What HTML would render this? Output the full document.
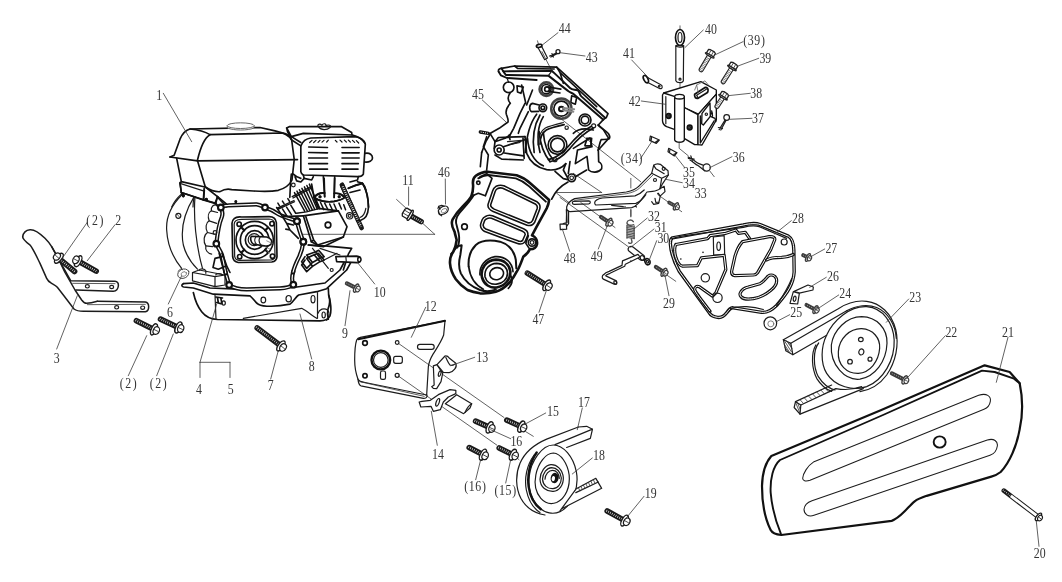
<!DOCTYPE html>
<html><head><meta charset="utf-8"><title>Parts diagram</title>
<style>
html,body{margin:0;padding:0;background:#fff;}
body{width:1062px;height:582px;overflow:hidden;font-family:"Liberation Serif",serif;}
svg{display:block;filter:grayscale(1);}
svg *{vector-effect:non-scaling-stroke;}
.k{fill:none;stroke:#111;stroke-width:1.65;stroke-linecap:round;stroke-linejoin:round;}
.kf{fill:#fff;stroke:#111;stroke-width:1.65;stroke-linecap:round;stroke-linejoin:round;}
.m{fill:none;stroke:#1c1c1c;stroke-width:1.2;stroke-linecap:round;stroke-linejoin:round;}
.mf{fill:#fff;stroke:#1c1c1c;stroke-width:1.2;stroke-linecap:round;stroke-linejoin:round;}
.t{fill:none;stroke:#333;stroke-width:0.8;stroke-linecap:round;stroke-linejoin:round;}
.tf{fill:#fff;stroke:#333;stroke-width:0.8;stroke-linecap:round;stroke-linejoin:round;}
.l{fill:none;stroke:#3a3a3a;stroke-width:0.8;stroke-linecap:round;}
.g{fill:none;stroke:#999;stroke-width:0.8;stroke-linecap:round;stroke-linejoin:round;}
.b{fill:#111;stroke:none;}
.sp path{stroke:#555;}
#bracket42 .k,#bracket42 .kf{stroke-width:1.35;}
text{font-family:"Liberation Serif",serif;font-size:15px;fill:#333;text-anchor:middle;stroke:none;}
</style></head><body>
<svg width="1062" height="582" viewBox="0 0 1062 582">
<rect x="0" y="0" width="1062" height="582" fill="#fff" stroke="none"/>
<!-- 06_axis.svg -->
<g id="axis">
<line class="l" x1="554" y1="113.3" x2="640.7" y2="181.7"/>
<line class="l" x1="556.7" y1="192.5" x2="601.7" y2="192.5"/>
<line class="l" x1="573.3" y1="173.3" x2="601.7" y2="192.5"/>
<line class="l" x1="556.7" y1="193.3" x2="570" y2="203.3"/>
<line class="l" x1="580.8" y1="202.5" x2="615" y2="227.5"/>
<line class="l" x1="560" y1="197.5" x2="628.3" y2="246.7"/>
<line class="l" x1="666.7" y1="275" x2="675.8" y2="281.3"/>
<line class="l" x1="658.3" y1="195" x2="681.7" y2="211.7"/>
<line class="l" x1="398.3" y1="343.3" x2="504" y2="417.5"/>
<line class="l" x1="525.8" y1="431.7" x2="533.3" y2="436.3"/>
<line class="l" x1="398.3" y1="376" x2="496.7" y2="445"/>
<line class="l" x1="516.7" y1="457.5" x2="519" y2="459.7"/>
<line class="l" x1="545.8" y1="59.2" x2="553" y2="73"/>
<line class="l" x1="703.3" y1="30" x2="685" y2="47.5"/>
<line class="l" x1="301.7" y1="234.3" x2="434.7" y2="234.3"/>
<line class="l" x1="396.6" y1="199.5" x2="434.7" y2="234.3"/>
</g>

<!-- 10_cover21.svg -->
<g id="cover21" transform="translate(708,346) scale(0.333333)">
<path class="k" style="stroke-width:2.2" d="M190,330 L520,192 L830,58 L905,78 L935,112 C943,150 946,200 935,250 C926,300 905,350 878,378 C868,386 860,389 850,392 L656,449.5 C640,455 628,460 620,466 C610,474 600,486 590,496 C578,508 565,520 551,524.5 L220,567 C200,565 192,560 188,552 C172,520 162,470 162,420 C163,385 172,350 190,330 Z"/>
<path class="k" style="stroke-width:1.9" d="M218.5,563 C205,530 192,490 188,440 C186,400 195,360 216,342 L525,207 L822,74 L860,78 L918,98 L935,112"/>
<path class="m" style="stroke-width:1.05" d="M318,347 L812,148 C835,140 850,150 847,166 C845,178 838,186 828,190 L306,403 C292,408 284,404 284,397 C285,383 298,360 318,347 Z"/>
<path class="m" style="stroke-width:1.05" d="M312,464 L838,282 C858,276 870,286 868,300 C866,314 858,324 846,328 L318,508 C300,514 288,504 288,490 C289,478 298,469 312,464 Z"/>
<ellipse class="k" style="stroke-width:1.9" cx="695" cy="288" rx="18" ry="17"/>
</g>

<!-- 11_pulley23.svg -->
<g id="pulley23" transform="translate(760,290) scale(0.1666667)">
<!-- back edge of pulley (left thickness) -->
<path class="m" d="M352,318 C318,360 318,460 350,520 C375,560 410,590 450,600"/>
<path class="m" d="M335,330 C305,380 310,470 340,530 C365,570 395,596 430,608"/>
<!-- belt wrapping (outer) -->
<path class="m" d="M140,298 L470,112 C520,80 580,60 640,68 C720,78 790,140 815,240 C835,330 815,430 760,510 C720,565 660,600 600,610"/>
<!-- pulley face outer -->
<path class="mf" d="M400,270 C440,180 540,95 640,100 C740,108 800,200 805,300 C810,420 740,540 640,580 C560,608 450,580 400,500 C362,440 365,340 400,270 Z"/>
<path class="m" d="M520,125 C580,90 650,85 700,105 C770,135 812,210 818,290"/>
<!-- rings -->
<path class="m" d="M428,330 C440,240 520,160 610,160 C700,162 765,230 762,320 C758,430 690,520 600,535 C510,545 420,450 428,330 Z"/>
<path class="m" d="M470,370 C475,290 540,230 610,232 C680,236 722,290 718,350 C712,430 660,495 590,500 C520,502 465,450 470,370 Z"/>
<ellipse class="m" cx="605" cy="297" rx="14" ry="13"/>
<ellipse class="m" cx="608" cy="372" rx="15" ry="18" transform="rotate(20 608 372)"/>
<ellipse class="m" cx="540" cy="430" rx="14" ry="14"/>
<ellipse class="m" cx="660" cy="415" rx="12" ry="12"/>
<!-- upper belt run -->
<path class="mf" d="M140,298 L185,320 L197,388 L155,365 Z"/>
<path class="m" d="M185,320 L520,125"/>
<path class="m" d="M197,388 L400,272"/>
<path class="t" d="M150,310 L188,370 M160,305 L192,352 M145,325 L180,378 M150,345 L170,372 M170,315 L190,340"/>
</g>
<g id="belt-lower" transform="translate(760,360) scale(0.1666667)">
<path class="mf" d="M213,250 L245,270 L240,325 L205,285 Z"/>
<path class="m" d="M213,250 L430,150"/>
<path class="m" d="M245,270 L455,172 C500,180 560,178 610,160"/>
<path class="m" d="M240,325 L620,172"/>
<path class="t" d="M240,238 L262,262 M265,226 L287,250 M290,215 L312,238 M315,203 L337,227 M340,192 L362,215 M365,180 L387,204 M390,169 L412,192 M412,158 L436,181"/>
<path class="t" d="M215,258 L238,315 M225,255 L242,300"/>
</g>

<!-- 20_handle3.svg -->
<g id="handle3" transform="translate(0,194) scale(0.333333)">
<path class="m" style="stroke-width:1.5" d="M68,128 C70,115 80,108 90,107 C102,106 122,120 135,133 C145,143 150,150 155,158 L212,260 L345,262 C352,263 356,268 355,276 C354,285 350,291 340,292 L228,288"/>
<path class="m" style="stroke-width:1.5" d="M68,128 C68,136 76,142 90,153 C100,165 110,188 120,208 L140,253 C144,262 150,265 155,268 C162,272 168,275 172,280 L190,303 L222,345 C230,351 240,352 250,352 L436,353 C442,352 446,346 446,338 C446,330 442,325 436,324 L292,322"/>
<path class="m" style="stroke-width:1.5" d="M155,158 L172,188 L195,235 L225,288 L245,318 C250,325 254,328 260,328 C272,328 282,325 292,322"/>
<path class="t" d="M218,268 L345,269"/>
<path class="t" d="M262,332 L436,331"/>
<ellipse class="m" cx="262" cy="277" rx="6" ry="5"/><ellipse class="m" cx="335" cy="279" rx="6" ry="5"/>
<ellipse class="m" cx="350" cy="340" rx="6" ry="5"/><ellipse class="m" cx="428" cy="341" rx="6" ry="5"/>
</g>

<!-- 21_base8.svg -->
<g id="base8" transform="translate(160,245) scale(0.1666667)">
<!-- top flange -->
<path class="k" d="M140,232 C128,236 128,250 142,252 L200,258 L320,295 L540,305 C560,320 570,345 590,355 C620,372 700,372 780,355 C800,340 815,310 832,300 L940,280 L1000,262 L1120,150 L1150,95"/>
<path class="k" d="M140,232 L200,228 L300,258 L470,265 L800,255 L990,228 L1080,150 L1120,75"/>
<!-- body -->
<path class="k" d="M200,285 C210,330 225,370 250,400 C275,432 310,445 345,447 L960,455 C990,455 1010,445 1020,425 C1030,395 1025,340 1012,300 L1010,262"/>
<path class="m" d="M500,440 L850,380 C880,395 915,425 940,440"/>
<path class="m" d="M945,285 L945,440"/>
<path class="m" d="M330,300 L336,445"/>
<ellipse class="m" cx="620" cy="330" rx="14" ry="17"/>
<ellipse class="m" cx="772" cy="322" rx="16" ry="19"/>
<ellipse class="m" cx="918" cy="325" rx="12" ry="22"/>
<ellipse class="m" cx="982" cy="420" rx="10" ry="18"/>
<path class="m" d="M948,410 C955,385 985,375 1005,390 C1020,405 1015,440 1000,452"/>
<!-- right end -->
<path class="k" d="M1012,300 C1022,330 1018,360 1008,385 C1002,410 1005,430 1010,445"/>
<!-- small bolt 5 -->
<path class="k" d="M335,312 L375,318 M345,318 L350,345 M365,320 L372,352 M340,345 L365,352"/>
<ellipse class="m" cx="382" cy="348" rx="10" ry="13"/>
<!-- mounting blocks -->
<path class="m" d="M195,165 L330,190 L330,250 L195,215 Z M195,165 L235,150 L390,180 L330,190 M390,180 L390,240 L330,250"/>
<path class="m" d="M235,152 C235,140 270,140 275,155 L275,170 M335,180 C335,168 370,168 372,182"/>
<!-- gasket bottom -->
<path class="k" style="stroke-width:4.2" d="M392,160 L415,240 C440,258 470,266 520,266 L720,260 C760,258 785,250 800,238 C790,215 790,190 800,158"/>
<path style="fill:none;stroke:#fff;stroke-width:1.2" d="M392,160 L415,240 C440,258 470,266 520,266 L720,260 C760,258 785,250 800,238 C790,215 790,190 800,158"/>
<circle class="kf" style="stroke-width:2.1" cx="415" cy="240" r="17"/>
<circle class="kf" style="stroke-width:2.1" cx="800" cy="238" r="17"/>
<!-- washer 6 -->
<ellipse class="g" cx="140" cy="172" rx="35" ry="27" transform="rotate(-25 140 172)" style="stroke:#444;stroke-width:1"/>
<ellipse class="g" cx="143" cy="174" rx="17" ry="13" transform="rotate(-25 143 174)" style="stroke:#666"/>
<path class="t" d="M108,158 L122,145 L135,148"/>
</g>

<!-- 30_engine_top.svg -->
<g id="tank" transform="translate(160,110) scale(0.1666667)">
<!-- tank upper -->
<path class="k" d="M60,282 L85,272 L120,175 C135,140 155,120 180,114 L600,105 L690,125 C740,135 775,150 790,180 L805,295"/>
<path class="k" d="M180,114 C220,118 270,130 300,148 L740,138 C760,140 780,160 790,180"/>
<path class="k" d="M300,148 C270,165 245,215 225,300"/>
<path class="k" d="M60,282 L225,305 L825,298"/>
<!-- fuel cap -->
<path d="M403,94 L405,108 C440,124 530,124 563,108 L565,94 Z" fill="#fff" stroke="#666" stroke-width="1" stroke-linejoin="round"/>
<ellipse cx="484" cy="94" rx="81" ry="17" fill="#fff" stroke="#666" stroke-width="1"/>
<!-- tank lower -->
<path class="k" d="M100,290 L128,430 L270,462"/>
<path class="k" d="M225,305 L272,462 C300,480 330,492 360,490 C380,478 400,470 430,478 L560,486 C620,490 680,488 710,482 C750,470 780,445 792,420 L805,300"/>
<!-- tank bracket -->
<path class="k" d="M128,430 L120,440 L128,495 L260,540 L265,470"/>
<path class="k" d="M128,495 L140,520 M260,540 L330,560 L345,520 L272,462"/>
<path class="m" d="M120,440 L260,485"/>
<circle class="b" cx="140" cy="515" r="9"/><circle class="b" cx="278" cy="535" r="9"/><circle class="b" cx="455" cy="550" r="8"/>
<path class="k" d="M345,520 C360,540 380,560 400,580 M330,560 L350,582"/>
<!-- fan housing arcs (top part) -->
<path class="m" d="M128,505 C100,530 80,560 70,582"/>
<path class="m" d="M205,520 C200,545 198,565 198,582"/>
</g>
<g id="airbox" transform="translate(270,110) scale(0.1666667)">
<!-- top plate -->
<path class="k" d="M100,108 L115,100 L430,100 L490,135 L492,150"/>
<path class="k" d="M100,108 L128,160 L185,195 M100,108 L105,130 L130,180 L185,215"/>
<path class="k" d="M128,160 L200,140 L495,150 C530,160 555,175 570,200"/>
<!-- wing nut -->
<path class="m" d="M290,100 C280,85 300,80 312,92 C318,78 340,80 335,95 C350,85 372,92 360,105 C350,115 335,118 325,118 C312,118 298,112 290,100 Z"/>
<!-- front box -->
<path class="k" d="M185,215 C195,190 215,172 245,168 L510,160 C545,165 565,180 572,205 L560,385 C555,395 545,400 530,400 L200,390 C190,385 186,378 185,370 Z"/>
<path class="k" d="M570,260 C600,255 615,270 615,288 C615,305 595,315 568,312"/>
<!-- vents dashes top -->
<path class="k" style="stroke-width:1.2" d="M238,195 L252,182 M262,195 L276,182 M288,194 L300,182 M312,193 L324,182 M340,192 L350,181 M392,182 L402,192 M420,181 L432,192 M446,181 L458,192 M470,181 L482,192 M495,182 L508,194 M518,184 L532,198"/>
<!-- louvers -->
<path class="k" style="stroke-width:1.6" d="M232,222 L345,225 M232,255 L345,257 M232,288 L345,288 M232,322 L345,322 M238,355 L345,355"/>
<path class="k" style="stroke-width:1.6" d="M432,225 L535,225 M432,257 L535,257 M432,288 L535,288 M432,322 L530,322 M432,355 L528,355"/>
<!-- below box -->
<path class="k" d="M200,390 L205,410 L250,420 L260,400 M530,400 L525,420 L480,432"/>
<path class="k" d="M140,385 C150,395 165,405 185,410 M150,400 L160,425 L185,432 L205,410"/>
<!-- intake pipe -->
<path class="k" d="M320,400 L328,520 M388,400 L385,525"/>
<path class="k" d="M270,520 C290,500 320,495 328,498 M385,500 C410,498 430,508 445,525"/>
<path class="k" d="M265,525 C290,545 340,555 385,548 C415,542 440,532 448,525"/>
<circle class="b" cx="300" cy="520" r="9"/><circle class="b" cx="415" cy="520" r="9"/>
<!-- muffler guard strip -->
<path class="k" style="stroke-width:4.6;stroke:#1a1a1a" d="M432,450 L472,540 L492,582"/>
<path style="fill:none;stroke:#fff;stroke-width:2.2;stroke-dasharray:0.8 1.3" d="M435,458 L472,540 L490,580"/>
<!-- muffler body top -->
<path class="k" d="M470,470 C500,455 530,445 555,440 C575,470 588,520 592,582"/>
<path class="k" d="M525,430 L555,440"/>
<circle class="m" cx="140" cy="450" r="11"/>
<path class="k" d="M128,385 L124,425 L119,524"/>
</g>

<!-- 31_engine_mid.svg -->
<g id="crankcase" transform="translate(160,175) scale(0.1666667)">
<!-- fan housing arcs -->
<path class="m" d="M130,120 C70,180 35,250 40,330 C45,420 80,500 130,560"/>
<path class="m" d="M205,130 C150,220 120,320 140,420 C155,480 190,530 225,565"/>
<path class="m" d="M210,130 C200,250 215,420 255,560"/>
<circle class="m" cx="110" cy="245" r="15"/><path class="t" d="M102,235 L120,256"/>
<!-- tank bracket continuing -->
<path class="k" d="M120,45 L128,105 L262,148 L266,90 M128,105 L140,125 M262,148 L335,170 L345,130"/>
<circle class="b" cx="140" cy="122" r="9"/><circle class="b" cx="278" cy="145" r="9"/><circle class="b" cx="455" cy="160" r="8"/>
<path class="k" d="M345,130 C370,150 395,170 410,185 M335,170 L352,195"/>
<!-- crankcase cover: double outline -->
<path class="k" style="stroke-width:4.2" d="M365,195 C380,185 395,182 410,182 L580,176 C600,178 615,188 630,195 C660,205 690,220 710,235 C750,255 790,265 822,277 C830,320 845,360 860,400 C855,440 845,470 835,490 C820,520 805,550 798,585"/>
<path style="fill:none;stroke:#fff;stroke-width:1.2" d="M365,195 C380,185 395,182 410,182 L580,176 C600,178 615,188 630,195 C660,205 690,220 710,235 C750,255 790,265 822,277 C830,320 845,360 860,400 C855,440 845,470 835,490 C820,520 805,550 798,585"/>
<path class="k" style="stroke-width:4.2" d="M365,195 C375,215 378,235 370,255 C355,290 345,350 338,412 C350,440 365,460 372,480 C380,520 388,560 395,590"/>
<path style="fill:none;stroke:#fff;stroke-width:1.2" d="M365,195 C375,215 378,235 370,255 C355,290 345,350 338,412 C350,440 365,460 372,480 C380,520 388,560 395,590"/>
<circle class="kf" style="stroke-width:2.1" cx="365" cy="195" r="17"/>
<circle class="kf" style="stroke-width:2.1" cx="630" cy="195" r="17"/>
<circle class="kf" style="stroke-width:2.1" cx="822" cy="277" r="17"/>
<circle class="kf" style="stroke-width:2.1" cx="860" cy="400" r="17"/>
<circle class="kf" style="stroke-width:2.1" cx="338" cy="412" r="17"/>
<!-- left wavy block -->
<path class="m" d="M345,180 C320,175 305,190 308,215 C290,225 285,250 295,275 C275,285 270,320 285,345 C262,360 258,400 275,425 C270,450 285,470 310,475"/>
<path class="m" d="M308,215 L345,225 M295,275 L340,290 M285,345 L325,355 M275,425 L315,430"/>
<circle class="m" cx="330" cy="345" r="11"/>
<!-- spark / lever lower-left -->
<path class="k" d="M330,500 L380,488 L400,545 L350,565 L318,555 Z M380,488 L372,470 M400,545 L420,585 M355,470 L385,585"/>
<!-- PTO flange rounded square -->
<path class="k" d="M445,262 C455,252 470,250 490,252 L655,250 C680,250 695,262 698,285 L702,490 C700,510 690,520 670,522 L470,525 C448,522 438,510 436,490 L432,290 C432,278 436,270 445,262 Z"/>
<path class="m" d="M455,275 C462,268 472,266 488,266 L655,264 C675,265 684,274 686,290 L690,488 C688,502 680,508 666,510 L474,512 C458,510 450,502 448,488 L445,295 C445,286 449,280 455,275 Z"/>
<circle class="k" cx="475" cy="295" r="13"/><circle class="k" cx="672" cy="292" r="13"/><circle class="k" cx="478" cy="490" r="13"/><circle class="k" cx="675" cy="487" r="13"/>
<circle class="k" cx="568" cy="390" r="112"/><circle class="k" cx="568" cy="390" r="86"/>
<path class="k" style="stroke-width:2.2" d="M492,318 L505,332 M645,318 L632,332 M492,462 L505,448 M645,462 L632,448"/>
<circle class="k" cx="568" cy="390" r="56"/>
<circle class="m" cx="565" cy="388" r="36"/>
<!-- shaft -->
<path class="kf" d="M548,368 L640,372 C665,378 675,395 668,412 C660,425 640,428 625,425 L560,415 C545,405 540,380 548,368 Z"/>
<path class="m" d="M575,372 C565,385 568,405 580,418 M600,374 C592,388 595,408 606,420"/>
<path class="g" d="M640,395 L672,410 M630,430 L660,445 M640,450 L655,470" style="stroke:#777"/>
<!-- lower right block under cover -->
<path class="k" d="M880,500 L925,478 L960,520 L915,548 Z M925,478 L950,470 L985,510 L960,520 M870,510 L850,540 L880,580 L915,548"/>
<path class="m" d="M985,510 L1062,470"/>
</g>
<g id="cylinder" transform="translate(270,175) scale(0.1666667)">
<path class="k" d="M40,195 L75,250 L200,245 M250,55 L265,140 L290,200 L410,215"/>
<!-- intake flange (from above tile) -->
<path class="k" d="M325,20 L328,130 M388,20 L385,135"/>
<path class="k" d="M265,135 C290,155 340,165 385,158 C415,152 440,142 448,135 C440,118 420,108 388,110 M328,108 C300,105 275,118 265,135"/>
<circle class="b" cx="300" cy="130" r="9"/><circle class="b" cx="415" cy="130" r="9"/>
<!-- muffler guard strip -->
<path class="k" style="stroke-width:4.6;stroke:#1a1a1a" d="M432,60 L472,150 L550,318"/>
<path style="fill:none;stroke:#fff;stroke-width:2.2;stroke-dasharray:0.8 1.3" d="M436,68 L472,150 L546,310"/>
<!-- muffler body -->
<path class="k" d="M470,80 C500,65 530,55 555,50 C580,90 592,150 590,200 C588,240 575,262 545,272 L520,275"/>
<path class="k" d="M555,50 C565,60 572,75 575,90 M480,105 L540,90"/>
<path class="m" d="M575,200 C570,230 560,248 540,255"/>
<!-- valve cover box -->
<path class="k" d="M200,245 L410,215 L462,310 L440,372 L285,420 L248,400 L200,245 Z"/>
<path class="k" d="M215,250 L262,390 L285,420 M262,390 L248,400"/>
<circle class="k" cx="348" cy="300" r="17"/>
<circle class="m" cx="478" cy="245" r="19"/><circle class="m" cx="478" cy="245" r="9"/>
<path class="k" d="M440,372 L320,430 L230,420"/>
<!-- cover bosses on this tile -->
<circle class="kf" style="stroke-width:2.1" cx="162" cy="277" r="17"/>
<circle class="kf" style="stroke-width:2.1" cx="200" cy="400" r="17"/>
<path class="k" d="M75,250 L100,290 L140,300 M100,290 L120,330 L170,380 M120,330 L95,325"/>
<!-- lower body lines -->
<path class="k" d="M230,420 L330,425 L490,440 L470,475 L440,570"/>
<path class="k" d="M220,480 L275,460 L300,500 L255,525 Z M275,460 L292,452 L325,490 L300,500 M210,490 L190,520 L220,560 L255,525"/>
<path class="m" d="M255,440 L350,560 M300,440 L420,480"/>
<circle class="m" cx="370" cy="570" r="9"/>
<!-- spacer 10 -->
<path class="kf" d="M395,490 L520,487 C535,488 545,498 545,508 C545,518 535,527 522,526 L400,520 Z"/>
<ellipse class="b" cx="535" cy="507" rx="13" ry="19"/><ellipse cx="536" cy="507" rx="5" ry="9" fill="#fff"/>
<path class="m" d="M455,489 L458,523"/>
</g>

<!-- 32_fins.svg -->
<g id="fins" transform="translate(270,170) scale(0.082863)">
<path class="k" style="stroke-width:1.5" d="M295,272 L420,500 M325,255 L450,494 M355,238 L480,488 M385,221 L510,482 M415,204 L540,476 M445,187 L570,470 M475,170 L600,464 "/>
<path class="k" style="stroke-width:1.3" d="M268,322 L500,196 M278,338 L508,212"/>
<path class="k" style="stroke-width:1.3" d="M88,460 L290,368 M95,476 L296,383"/>
<path class="k" style="stroke-width:1.5" d="M150,470 L208,560 M200,448 L260,542 M250,425 L310,522 M95,400 L115,432 M150,375 L170,407 M215,345 L235,377"/>
<path class="k" style="stroke-width:1.5" d="M560,380 L600,468 M610,392 L650,478 M660,400 L700,480 M720,410 L752,480 M772,410 L802,480 M832,400 L862,470 M890,420 L912,480"/>
<path class="k" style="stroke-width:1.3" d="M320,522 L440,505 L600,462"/>
</g>

<!-- 40_housing45.svg -->
<g id="housing45" transform="translate(470,55) scale(0.1666667)">
<!-- top rail frame -->
<path class="k" style="stroke-width:1.7" d="M172,100 C168,88 175,82 188,80 L268,66 L520,73 L828,352 L818,375"/>
<path class="k" style="stroke-width:1.9" d="M172,100 L185,122 L222,138 L400,150 M188,80 L200,98 L492,95 L600,198 C615,212 630,205 645,212 C660,222 655,235 668,248 L812,378"/>
<path class="k" style="stroke-width:2" d="M200,98 L215,120 L470,124 L588,215 C600,228 618,225 628,240 L800,388"/>
<path class="k" d="M268,66 L285,80 L505,84 M520,73 L540,105 L560,170 M540,105 L760,310"/>
<path class="m" d="M222,138 L232,165 M492,95 L470,124"/>
<!-- bosses below rail -->
<circle class="k" cx="232" cy="194" r="32"/>
<path class="k" d="M282,185 L320,192 L305,230 L285,222 Z"/>
<!-- gear 1 -->
<circle class="k" style="stroke-width:2.1;stroke:#444" cx="458" cy="205" r="42"/><circle class="t" cx="458" cy="205" r="36"/>
<circle class="k" cx="458" cy="205" r="28"/><circle class="k" cx="462" cy="205" r="14"/>
<path class="k" d="M470,192 L545,205 M470,218 L540,228"/>
<path class="k" d="M610,245 L640,255 L632,295 L605,285 Z"/>
<!-- gear 2 -->
<circle class="k" style="stroke-width:2.1;stroke:#444" cx="548" cy="322" r="62"/><circle class="t" cx="548" cy="322" r="55"/>
<circle class="k" cx="548" cy="322" r="45"/>
<circle class="k" style="stroke-width:2" cx="548" cy="324" r="14"/>
<path class="k" d="M560,318 L625,325 M560,332 L620,340" style="stroke:#888;stroke-width:2"/>
<!-- boss -->
<circle class="k" cx="437" cy="317" r="23"/><circle class="k" cx="437" cy="317" r="11"/>
<path class="k" d="M415,300 L375,290 C355,295 352,330 370,340 L412,338"/>
<!-- right circles -->
<circle class="k" cx="690" cy="390" r="36"/><circle class="k" cx="690" cy="390" r="23"/>
<circle class="m" cx="742" cy="425" r="12"/><circle class="m" cx="580" cy="436" r="10"/>
<!-- big lower circle -->
<circle class="k" cx="525" cy="540" r="56"/><circle class="k" cx="525" cy="540" r="41"/>
<!-- left profile -->
<path class="k" d="M240,230 C225,250 225,270 242,290 C225,310 212,335 218,355 C225,375 232,390 228,402 L175,440 L125,468 L95,520 L70,585"/>
<path class="k" d="M375,210 L340,300 M330,290 L300,350 L262,440 L240,480 M350,340 L300,440 L290,470"/>
<path class="k" d="M310,180 L335,290"/>
<!-- curved inner walls -->
<path class="k" d="M400,355 C365,400 340,470 332,585"/>
<path class="k" d="M440,370 C410,420 395,480 420,585 M420,360 C385,420 372,500 385,585"/>
<path class="k" d="M420,535 C420,500 435,465 458,450 C480,438 520,428 565,418"/><path class="m" d="M408,540 C408,495 425,455 452,438 C478,425 520,415 560,405"/>
<!-- stud -->
<path class="k" style="stroke-width:3.4" d="M62,462 L110,470"/>
<path style="fill:none;stroke:#fff;stroke-width:1;stroke-dasharray:1 1.2" d="M64,462 L108,470"/>
<!-- lower-left boss (part) -->
<path class="k" d="M120,470 L150,520 L210,500 L240,480 M150,520 L145,560"/>
<!-- right lower -->
<path class="k" d="M768,421 C790,440 815,455 830,471 C838,482 840,495 836,502 C820,508 800,506 787,508 C780,520 776,545 768,572"/>
<path class="k" d="M812,378 L800,388 L770,420"/>
<path class="k" d="M620,470 C650,440 700,440 740,450 M700,500 L730,500 L725,545 L690,545"/>
</g>
<g id="housing45b" transform="translate(470,120) scale(0.1666667)">
<circle class="kf" cx="175" cy="180" r="30"/><circle class="k" cx="175" cy="180" r="12"/>
<path class="k" d="M100,100 L80,160 L110,210 L100,300 M70,195 L62,280"/>
<path class="k" d="M200,160 L330,118 M205,198 L322,215 M150,130 L170,105 L330,100 M235,90 L240,118 M150,210 L190,235 L320,240"/>
<path class="m" d="M225,130 L310,122 M230,150 L300,135"/>
<path class="k" d="M330,100 L340,200 C360,250 400,285 460,298 C510,305 550,290 575,262"/>
<path class="k" d="M345,110 C350,180 380,250 440,275 M318,108 L325,230"/>
<!-- curved double line to top right -->
<path class="k" d="M480,250 C520,245 560,215 600,170 C640,120 680,80 740,48"/>
<path class="k" d="M470,238 C510,232 548,205 588,160 C628,112 668,70 728,38"/>
<path class="k" d="M415,70 C420,140 440,200 480,250 M440,75 C445,140 462,195 500,240"/>
<circle class="m" cx="510" cy="238" r="12"/>
<!-- right leg -->
<path class="k" d="M620,170 L720,108 L732,160 L645,180 L632,262 L702,218 L712,300 C730,318 770,318 790,292 C795,272 785,255 772,250 L770,180 L832,110 L800,58 L770,30"/>
<path class="k" d="M700,120 L690,150 M600,250 L590,320 M575,262 L560,300 L585,345"/>
<!-- bottom boss -->
<circle class="kf" cx="610" cy="347" r="23"/><circle class="m" cx="610" cy="347" r="11"/>
<path class="k" d="M510,308 L560,352 L588,358 M632,340 L700,300"/>
<!-- curve to guard/arm -->
<path class="k" d="M588,372 C545,395 510,430 490,475"/>
</g>

<!-- 41_guard.svg -->
<g id="guard" transform="translate(430,160) scale(0.1666667)">
<defs>
<path id="gd-out" d="M275,95 C295,80 320,72 345,70 L520,92 C560,105 585,125 605,142 L715,240 C712,262 706,278 700,290 L640,400 L612,452 C630,460 645,480 642,505 C638,525 620,535 600,535 C590,555 575,570 560,580 C545,620 535,650 520,670 C505,700 490,720 478,735 C450,765 420,785 395,790 C360,800 330,802 300,800 C270,795 245,788 225,780 C195,760 170,735 155,715 C135,685 122,650 120,620 C118,590 125,570 140,550 C150,530 158,500 160,480 C155,460 150,445 148,432 C130,400 128,375 135,358 C150,330 170,305 195,280 C220,255 240,235 248,218 C258,190 260,165 258,145 C255,120 262,105 275,95 Z"/>
<path id="gd-w1" d="M400,165 C415,158 428,158 440,162 L638,258 C652,268 655,280 650,295 L622,368 C612,385 600,388 585,384 L382,302 C362,292 352,280 357,265 L383,188 C387,176 392,170 400,165 Z"/>
<path id="gd-w2" d="M335,347 C345,340 358,338 372,342 L558,420 C575,428 582,440 578,452 L562,488 C552,498 540,498 528,494 L332,422 C315,412 308,400 312,385 L320,362 C324,354 328,350 335,347 Z"/>
</defs>
<use href="#gd-out" class="k" style="stroke-width:2.6"/>
<path class="k" style="stroke-width:1.9" d="M290,110 C310,98 330,92 350,90 L515,110 C550,122 575,140 595,158 L695,250"/>
<path class="k" d="M300,100 L340,82 L372,110 L332,215 L290,200 L262,212"/>
<circle class="k" cx="290" cy="137" r="10"/>
<use href="#gd-w1" class="k" style="stroke-width:4.2"/><use href="#gd-w1" style="fill:none;stroke:#fff;stroke-width:1.1"/>
<use href="#gd-w2" class="k" style="stroke-width:4.2"/><use href="#gd-w2" style="fill:none;stroke:#fff;stroke-width:1.1"/>
<circle class="k" cx="207" cy="400" r="17"/>
<circle class="k" cx="612" cy="495" r="22"/><circle class="m" cx="612" cy="495" r="11"/>
<path class="k" d="M590,455 L575,500 L595,530"/>
<!-- left inner second outline -->
<path class="k" style="stroke-width:1.9" d="M262,212 C240,250 200,290 175,320 C155,345 150,370 162,400 L172,440 C178,470 175,500 165,525"/>
<!-- left bulge -->
<path class="k" style="stroke-width:2" d="M150,520 L190,512 L182,570 C172,610 172,650 185,680 C205,720 250,760 300,780 C330,790 360,790 395,778"/>
<path class="k" d="M160,525 L125,565"/>
<!-- dome arcs -->
<path class="k" style="stroke-width:2" d="M232,640 C228,590 245,540 275,510 C310,480 360,478 420,490 C470,505 505,545 515,600 L518,650"/>
<path class="k" d="M300,690 C295,640 330,590 390,580 C450,575 495,615 498,670"/>
<path class="k" style="stroke-width:2.6" d="M312,705 C300,650 340,600 395,598 C445,598 478,630 482,668 C485,715 450,755 400,765 C360,770 325,748 312,705 Z"/>
<path class="k" d="M330,700 C325,655 355,622 400,620 C440,620 465,648 465,680 C465,715 435,742 400,745 C365,748 338,730 330,700 Z"/>
<ellipse class="k" cx="400" cy="682" rx="42" ry="36" transform="rotate(-15 400 682)"/>
<path class="k" d="M482,690 C500,720 490,750 470,770 M232,640 C240,700 270,750 320,775"/>
</g>

<!-- 42_arm34.svg -->
<g id="arm34" transform="translate(545,125) scale(0.1666667)">
<!-- lever arm -->
<path class="m" d="M130,492 C135,470 150,455 178,442 L488,402 C520,395 545,385 562,368 L640,290 L652,242 C665,232 680,232 692,236 L738,274 L740,300 L702,358 L690,382 C680,392 665,396 645,398 L612,402 C590,430 575,455 560,470 C548,482 535,492 520,496 L152,520 C135,520 128,510 130,492 Z"/>
<path class="t" d="M178,452 L490,412 C525,405 550,395 568,378 L648,300"/>
<path class="m" d="M640,290 L700,320 L740,300 M700,320 L690,382 M652,242 L665,262 L715,292"/>
<circle class="m" cx="712" cy="263" r="9"/><circle class="m" cx="660" cy="330" r="9"/>
<path class="m" d="M172,458 L262,455 C275,456 275,472 262,473 L175,476 C162,476 160,460 172,458 Z"/>
<path class="m" d="M310,450 C320,442 330,440 345,438 L540,425 C565,418 580,405 595,390 M305,480 C295,475 295,458 310,450 M305,480 L545,470 C570,462 590,440 605,418"/>
<path class="m" d="M400,482 L470,490 M545,488 L548,492"/>
<circle class="b" cx="480" cy="490" r="4"/><circle class="b" cx="545" cy="488" r="4"/>
<!-- under bracket -->
<path class="m" d="M690,382 L715,368 L720,400 L692,425 L682,470 L652,476 L640,460 M660,440 L665,465 L685,462 M680,410 L690,425"/>
<circle class="b" cx="678" cy="412" r="5"/>
<!-- left strap 48 -->
<path class="m" d="M130,505 L128,580 M142,518 L140,582"/>
<!-- vertical tick lines -->
<path class="l" d="M515,320 L515,378 M515,505 L515,545"/>
<!-- clips (34), 35 -->
<path class="m" d="M632,66 L686,90 L668,110 L628,92 Z M640,72 L636,95 M680,92 L664,102"/>
<path class="m" d="M742,140 L792,166 L776,186 L738,160 Z M750,146 L746,166 M786,168 L772,180"/>
</g>
<g id="parts29-33" transform="translate(560,190) scale(0.1666667)">
<!-- bracket 48 -->
<path class="m" d="M38,118 L42,195 L20,202 M50,125 L52,200 L42,215"/>
<path class="mf" d="M0,205 L38,203 L40,235 L2,238 Z"/>
<!-- spring 32 --><g class="sp">
<path class="m" style="stroke-width:1.3" d="M425,120 L425,160"/>
<path class="m" style="stroke-width:1.4" d="M440,190 C430,175 405,178 402,195 C400,210 420,215 442,208"/>
<path class="m" style="stroke-width:1.2" d="M402,215 L445,222 M402,225 L445,232 M402,235 L445,242 M402,245 L445,252 M402,255 L445,262 M402,265 L445,272 M402,275 L445,282 M402,285 L445,290"/>
<path class="m" d="M402,212 L402,290 M445,215 L445,292"/>
<path class="m" style="stroke-width:1.4" d="M428,292 L432,312 C430,322 418,322 412,316"/>
</g><!-- link 31 tube -->
<path class="mf" d="M410,350 C412,338 428,335 438,342 L505,395 C512,405 505,420 492,422 C485,422 478,418 472,412 L415,368 C408,362 408,355 410,350 Z"/>
<ellipse class="m" cx="494" cy="408" rx="12" ry="15" transform="rotate(-30 494 408)"/>
<!-- arm plate -->
<path class="mf" d="M375,425 L468,386 L480,402 L392,445 L388,458 L300,500 C285,505 275,510 268,518 L262,508 C270,498 282,492 295,488 L372,452 Z"/>
<circle class="b" cx="425" cy="425" r="4"/>
<!-- pin at end -->
<path class="mf" d="M262,508 C252,512 250,528 260,535 L325,565 C338,568 345,555 338,545 L275,515"/>
<ellipse class="m" cx="332" cy="556" rx="8" ry="11" transform="rotate(-30 332 556)"/>
<!-- washer 30 -->
<ellipse class="k" style="stroke-width:1.6" cx="525" cy="430" rx="15" ry="19" transform="rotate(-25 525 430)"/>
<ellipse class="m" cx="525" cy="430" rx="6" ry="9" transform="rotate(-25 525 430)"/>
</g>

<!-- 43_bracket42.svg -->
<g id="pin40-41" transform="translate(625,15) scale(0.1666667)">
<!-- eye pin 40 -->
<path class="l" d="M330,65 L330,85"/>
<ellipse class="k" cx="330" cy="135" rx="27" ry="48"/>
<ellipse class="m" cx="330" cy="135" rx="12" ry="30"/>
<path class="mf" d="M305,185 C315,195 345,195 352,185 L350,395 C345,410 312,410 305,395 Z"/>
<path class="m" d="M305,185 C312,178 320,182 328,182 M352,185 C345,178 338,182 332,182"/>
<circle class="m" cx="330" cy="385" r="6"/>
<path class="l" d="M330,410 L330,470"/>
<!-- pin 41 -->
<path class="mf" d="M135,375 L215,418 C228,425 225,445 210,442 L128,400 Z"/>
<ellipse class="kf" cx="125" cy="385" rx="12" ry="24" transform="rotate(-28 125 385)"/>
<circle class="m" cx="205" cy="428" r="5"/>
</g>
<g id="bracket42" transform="translate(625,80) scale(0.1666667)">
<!-- top gusset -->
<path class="kf" d="M232,78 L455,10 L548,60 L548,85 L440,205 L355,165 L300,112 L240,95 Z"/>
<!-- front plate left -->
<path class="kf" d="M225,90 L232,78 L300,100 L300,298 L250,280 C235,272 226,260 225,245 Z"/>
<path class="m" d="M245,100 L245,262"/>
<!-- front plate right -->
<path class="kf" d="M355,165 L438,208 L438,388 L418,388 L355,350 Z"/>
<path class="kf" d="M438,208 L548,85 L548,240 L462,390 L438,388 Z"/>
<path class="k" d="M452,215 L452,378 L535,245"/>
<!-- side window -->
<path class="kf" d="M462,200 L510,138 L512,218 L470,270 L460,262 Z"/>
<circle class="m" cx="488" cy="205" r="7"/>
<path class="k" d="M512,218 L540,230 L545,250 M520,185 L525,215"/>
<circle class="b" cx="520" cy="200" r="7"/>
<!-- holes -->
<circle class="k" style="stroke-width:2" cx="262" cy="216" r="13"/><circle class="m" cx="262" cy="216" r="5"/>
<circle class="k" style="stroke-width:2" cx="388" cy="285" r="13"/><circle class="m" cx="388" cy="285" r="5"/>
<!-- nut slot on top -->
<path class="k" style="stroke-width:1.8" d="M418,85 L478,46 C492,42 500,52 498,64 L495,75 L438,110 C425,112 415,105 418,85 Z"/>
<path class="m" d="M430,92 L488,56 M438,110 L432,95"/>
<path class="t" d="M418,60 L430,30 L480,5 L500,30 M430,30 L440,80" style="stroke:#666"/>
<!-- cylinder -->
<path class="kf" d="M298,100 L298,360 C305,378 350,378 356,360 L356,100 Z"/>
<ellipse class="kf" cx="327" cy="100" rx="29" ry="14"/>
<!-- rod below -->
<path class="l" d="M325,375 L325,410 L380,455"/>
<!-- cotter 37 -->
<circle class="m" cx="610" cy="225" r="17"/>
<path class="m" d="M600,240 L565,298 M606,243 L575,300 M560,285 L585,292"/>
<!-- cotter 36 -->
<circle class="m" cx="490" cy="525" r="22"/>
<path class="m" d="M472,512 L440,500 C425,495 415,480 395,470 L378,462 M478,545 L440,515 C420,505 410,492 390,480"/>
<path class="m" d="M395,455 L405,490 M380,470 L415,475"/>
<path class="l" d="M508,545 L535,580"/>
</g>

<!-- 44_plate28.svg -->
<g id="plate28" transform="translate(660,222) scale(0.1666667)">
<defs>
<path id="p28-out" d="M75,95 L500,18 C540,8 580,8 600,15 L770,85 C795,100 802,130 803,170 L805,300 C800,370 770,420 700,500 C670,530 640,545 610,542 L440,515 C425,512 415,525 400,545 C385,565 365,575 345,572 C320,568 305,560 298,548 L115,295 C90,250 65,180 62,130 C62,110 65,100 75,95 Z"/>
<path id="p28-w1" d="M495,118 L655,88 C680,85 692,95 688,108 L665,165 L585,305 C578,315 570,318 560,318 L450,322 C435,320 428,310 430,295 L450,205 C460,170 475,140 495,118 Z"/>
<path id="p28-w2" d="M482,425 C490,405 510,395 530,390 L600,370 C620,360 635,340 648,325 C665,312 690,318 698,340 C705,365 690,390 665,410 C630,440 590,455 560,460 C530,465 500,462 488,450 C480,442 478,434 482,425 Z"/>
<path id="p28-pk" d="M95,135 L285,100 L300,82 L395,68 L455,48 L470,68 L512,62 L538,100 M95,135 C85,150 85,190 100,225 C110,250 120,262 135,265 L225,262 L248,215 L385,200 L395,285 L335,425 L315,445 L235,388 C220,382 208,390 208,405 C210,420 250,470 300,535"/>
<path id="p28-rr" d="M640,228 C665,212 700,212 730,212 C760,210 780,205 800,195"/>
</defs>
<use href="#p28-out" class="k" style="stroke-width:3.4"/><use href="#p28-out" style="fill:none;stroke:#fff;stroke-width:1.0"/>
<path class="m" d="M70,100 L130,85 L500,32 C540,22 575,22 595,28 L760,98"/>
<use href="#p28-pk" class="k" style="stroke-width:3.2"/><use href="#p28-pk" style="fill:none;stroke:#fff;stroke-width:1.0"/>
<use href="#p28-w1" class="k" style="stroke-width:3.2"/><use href="#p28-w1" style="fill:none;stroke:#fff;stroke-width:1.0"/>
<use href="#p28-w2" class="k" style="stroke-width:3.2"/><use href="#p28-w2" style="fill:none;stroke:#fff;stroke-width:1.0"/>
<use href="#p28-rr" class="k" style="stroke-width:3.2"/><use href="#p28-rr" style="fill:none;stroke:#fff;stroke-width:1.0"/>
<path class="m" d="M320,90 L385,82 L388,195 L322,198 Z"/>
<ellipse class="m" cx="352" cy="145" rx="11" ry="25"/>
<circle class="b" cx="125" cy="222" r="5"/><circle class="b" cx="258" cy="182" r="5"/>
<circle class="m" cx="745" cy="120" r="18"/>
<circle class="m" cx="272" cy="335" r="25"/>
<circle class="m" cx="345" cy="455" r="28"/>
<path class="m" d="M420,520 C480,500 560,505 620,525 M700,500 C740,440 770,390 790,340"/>
<!-- bracket 26 -->
<path class="mf" d="M805,416 L888,378 L920,390 L918,408 L836,427 Z"/>
<path class="mf" d="M800,418 L836,428 L826,492 L780,488 Z"/>
<ellipse class="m" cx="808" cy="460" rx="8" ry="16" transform="rotate(10 808 460)"/>
</g>
<g id="washer25" transform="translate(760,290) scale(0.1666667)">
<ellipse class="m" cx="62" cy="200" rx="38" ry="39"/><ellipse class="g" cx="65" cy="203" rx="18" ry="18" style="stroke:#666"/>
</g>

<!-- 45_plate12.svg -->
<g id="plate12" transform="translate(350,315) scale(0.1666667)">
<path class="m" d="M40,150 C45,140 52,136 62,134 L570,35 L562,120 C545,165 520,200 500,232 C482,262 472,290 470,312 L460,480 L90,405 C65,400 52,395 48,385 C35,350 28,310 28,270 C28,230 30,180 40,150 Z"/>
<path class="k" style="stroke-width:2" d="M50,145 L570,35"/>
<path class="m" d="M48,385 C50,410 55,420 65,425 L440,500 C455,500 465,495 462,480"/>
<path class="t" d="M60,400 L445,488"/>
<circle class="k" cx="90" cy="168" r="14"/><circle class="m" cx="283" cy="165" r="11"/>
<circle class="k" style="stroke-width:2.4" cx="185" cy="270" r="56"/><circle class="m" cx="185" cy="270" r="44"/>
<rect class="m" x="262" y="248" width="52" height="42" rx="12"/>
<rect class="m" x="405" y="176" width="100" height="30" rx="14"/>
<circle class="k" cx="90" cy="365" r="13"/>
<rect class="m" x="183" y="336" width="30" height="50" rx="10"/>
<circle class="m" cx="283" cy="362" r="12"/>
<!-- bracket 13 -->
<path class="mf" d="M500,305 L522,298 L556,350 L546,400 L520,442 L500,440 L490,430 L505,420 Z"/>
<ellipse class="m" cx="538" cy="352" rx="7" ry="17" transform="rotate(15 538 352)"/>
<path class="mf" d="M522,298 L570,246 C580,244 590,250 595,258 L635,290 C640,305 635,318 628,325 C618,338 605,345 595,346 L560,345 Z"/>
<path class="m" d="M575,255 C585,275 590,290 600,300 C610,305 620,300 628,295"/>
<!-- bracket 14 -->
<path class="mf" d="M415,522 L432,518 L482,512 L530,478 L600,448 L635,452 L635,472 L590,492 L560,522 L542,568 L500,578 L486,548 L425,552 Z"/>
<ellipse class="m" cx="526" cy="524" rx="9" ry="24" transform="rotate(20 526 524)"/>
<path class="mf" d="M572,532 L640,478 L730,532 L720,558 L682,592 Z"/>
<path class="m" d="M730,532 C715,540 700,560 690,585"/>
</g>

<!-- 46_pulley18.svg -->
<g id="pulley18" transform="translate(505,415) scale(0.1666667)">
<!-- belt 17 wrap -->
<path class="m" d="M440,72 L250,145 C180,175 120,220 90,290 C60,360 65,440 95,500 C125,555 180,590 240,600"/>
<path class="m" d="M440,72 L490,68 L525,85 L512,140 L370,195 M525,85 L300,178"/>
<!-- pulley face -->
<path class="mf" d="M290,180 C350,180 410,250 428,340 C445,430 410,540 330,580 C290,598 240,590 205,555 C160,510 135,440 145,370 C155,280 220,180 290,180 Z"/>
<path class="k" style="stroke-width:2.4" d="M190,225 C150,280 132,360 142,430 C150,490 180,540 215,565"/>
<path class="m" d="M175,240 C130,300 115,380 128,450 C140,510 170,560 210,585"/>
<path class="m" d="M290,228 C335,230 375,290 385,360 C392,430 365,500 310,525 C275,538 240,528 215,500 C185,465 175,410 185,360 C198,290 245,228 290,228 Z"/>
<!-- hub -->
<path class="m" d="M210,385 C212,340 240,302 275,298 C310,296 345,325 350,375 C352,420 325,455 290,458 C250,460 212,435 210,385 Z"/>
<path class="m" d="M225,385 C228,348 250,318 280,316 C310,316 335,340 338,378 C338,412 318,440 288,442 C255,444 228,422 225,385 Z"/>
<path class="m" d="M240,385 C242,355 262,332 285,332 C308,332 325,352 326,380"/>
<ellipse class="b" cx="298" cy="378" rx="24" ry="31" transform="rotate(12 298 378)"/>
<ellipse cx="290" cy="382" rx="10" ry="16" fill="#fff" transform="rotate(12 290 382)"/>
<!-- lower belt -->
<path class="mf" d="M428,442 L545,380 L580,440 L340,562 L330,575 Z"/>
<path class="m" d="M425,466 L560,402"/>
<path class="t" d="M440,436 L450,455 M455,428 L465,448 M470,420 L480,440 M485,412 L495,433 M500,404 L510,425 M515,396 L525,418 M530,388 L540,410"/>
</g>

<!-- 50_bolts.svg -->
<g id="bolts">
<line x1="60.7" y1="259.8" x2="74.6" y2="271.5" stroke="#1a1a1a" stroke-width="5.6" stroke-linecap="round"/>
<line x1="61.3" y1="260.4" x2="75.8" y2="272.5" stroke="#fff" stroke-width="2.2" stroke-dasharray="0.6 1.5"/>
<ellipse cx="58.9" cy="258.3" rx="2.7" ry="6.0" transform="rotate(40.1 58.9 258.3)" fill="#fff" stroke="#1a1a1a" stroke-width="1.4"/>
<ellipse cx="56.9" cy="256.6" rx="3.0" ry="4.0" transform="rotate(40.1 56.9 256.6)" fill="#fff" stroke="#1a1a1a" stroke-width="1.2"/>
<line x1="55.2" y1="255.1" x2="59.0" y2="258.4" stroke="#1a1a1a" stroke-width="0.8"/>
<line x1="80.3" y1="262.3" x2="96.2" y2="271.1" stroke="#1a1a1a" stroke-width="5.6" stroke-linecap="round"/>
<line x1="81.0" y1="262.7" x2="97.6" y2="271.9" stroke="#fff" stroke-width="2.2" stroke-dasharray="0.6 1.5"/>
<ellipse cx="78.2" cy="261.2" rx="2.7" ry="6.0" transform="rotate(28.9 78.2 261.2)" fill="#fff" stroke="#1a1a1a" stroke-width="1.4"/>
<ellipse cx="75.9" cy="259.9" rx="3.0" ry="4.0" transform="rotate(28.9 75.9 259.9)" fill="#fff" stroke="#1a1a1a" stroke-width="1.2"/>
<line x1="73.9" y1="258.8" x2="78.3" y2="261.2" stroke="#1a1a1a" stroke-width="0.8"/>
<line x1="151.9" y1="328.4" x2="136.4" y2="320.7" stroke="#1a1a1a" stroke-width="5.6" stroke-linecap="round"/>
<line x1="151.2" y1="328.0" x2="135.0" y2="320.0" stroke="#fff" stroke-width="2.2" stroke-dasharray="0.6 1.5"/>
<ellipse cx="154.0" cy="329.4" rx="2.7" ry="6.0" transform="rotate(-153.7 154.0 329.4)" fill="#fff" stroke="#1a1a1a" stroke-width="1.4"/>
<ellipse cx="156.3" cy="330.6" rx="3.0" ry="4.0" transform="rotate(-153.7 156.3 330.6)" fill="#fff" stroke="#1a1a1a" stroke-width="1.2"/>
<line x1="158.4" y1="331.6" x2="153.9" y2="329.4" stroke="#1a1a1a" stroke-width="0.8"/>
<line x1="176.2" y1="326.5" x2="160.5" y2="319.1" stroke="#1a1a1a" stroke-width="5.6" stroke-linecap="round"/>
<line x1="175.5" y1="326.2" x2="159.1" y2="318.4" stroke="#fff" stroke-width="2.2" stroke-dasharray="0.6 1.5"/>
<ellipse cx="178.4" cy="327.5" rx="2.7" ry="6.0" transform="rotate(-154.7 178.4 327.5)" fill="#fff" stroke="#1a1a1a" stroke-width="1.4"/>
<ellipse cx="180.7" cy="328.6" rx="3.0" ry="4.0" transform="rotate(-154.7 180.7 328.6)" fill="#fff" stroke="#1a1a1a" stroke-width="1.2"/>
<line x1="182.8" y1="329.6" x2="178.3" y2="327.5" stroke="#1a1a1a" stroke-width="0.8"/>
<line x1="279.0" y1="344.5" x2="257.2" y2="328.0" stroke="#1a1a1a" stroke-width="5.6" stroke-linecap="round"/>
<line x1="278.4" y1="344.0" x2="256.0" y2="327.0" stroke="#fff" stroke-width="2.2" stroke-dasharray="0.6 1.5"/>
<ellipse cx="280.9" cy="345.9" rx="2.7" ry="6.0" transform="rotate(-142.9 280.9 345.9)" fill="#fff" stroke="#1a1a1a" stroke-width="1.4"/>
<ellipse cx="283.0" cy="347.5" rx="3.0" ry="4.0" transform="rotate(-142.9 283.0 347.5)" fill="#fff" stroke="#1a1a1a" stroke-width="1.2"/>
<line x1="284.8" y1="348.9" x2="280.8" y2="345.8" stroke="#1a1a1a" stroke-width="0.8"/>
<line x1="354.7" y1="287.4" x2="346.9" y2="283.4" stroke="#3c3c3c" stroke-width="4.2" stroke-linecap="round"/>
<line x1="354.0" y1="287.0" x2="346.1" y2="283.0" stroke="#fff" stroke-width="0.8" stroke-dasharray="0.6 1.5"/>
<ellipse cx="356.2" cy="288.1" rx="1.9" ry="4.5" transform="rotate(-153.3 356.2 288.1)" fill="#fff" stroke="#3c3c3c" stroke-width="1.4"/>
<ellipse cx="357.9" cy="289.0" rx="2.2" ry="3.0" transform="rotate(-153.3 357.9 289.0)" fill="#fff" stroke="#3c3c3c" stroke-width="1.2"/>
<line x1="359.3" y1="289.7" x2="356.1" y2="288.1" stroke="#3c3c3c" stroke-width="0.8"/>
<line x1="411.8" y1="216.3" x2="421.2" y2="221.7" stroke="#1a1a1a" stroke-width="5.4" stroke-linecap="round"/>
<line x1="412.5" y1="216.7" x2="422.5" y2="222.5" stroke="#fff" stroke-width="2.0" stroke-dasharray="0.6 1.5"/>
<ellipse cx="410.2" cy="215.3" rx="1.5" ry="5.8" transform="rotate(30.2 410.2 215.3)" fill="#fff" stroke="#1a1a1a" stroke-width="1.3"/>
<polygon points="404.9,209.3 406.9,208.1 411.7,210.9 407.0,218.8 402.3,216.0 402.3,213.7" fill="#fff" stroke="#1a1a1a" stroke-width="1.3" stroke-linejoin="round"/>
<line x1="404.8" y1="210.3" x2="410.2" y2="213.5" stroke="#1a1a1a" stroke-width="0.8"/>
<line x1="403.2" y1="213.1" x2="408.5" y2="216.2" stroke="#1a1a1a" stroke-width="0.8"/>
<line x1="544.6" y1="284.0" x2="527.4" y2="273.2" stroke="#1a1a1a" stroke-width="5.6" stroke-linecap="round"/>
<line x1="544.0" y1="283.6" x2="526.0" y2="272.3" stroke="#fff" stroke-width="2.2" stroke-dasharray="0.6 1.5"/>
<ellipse cx="546.7" cy="285.3" rx="2.7" ry="6.0" transform="rotate(-147.9 546.7 285.3)" fill="#fff" stroke="#1a1a1a" stroke-width="1.4"/>
<ellipse cx="548.8" cy="286.6" rx="3.0" ry="4.0" transform="rotate(-147.9 548.8 286.6)" fill="#fff" stroke="#1a1a1a" stroke-width="1.2"/>
<line x1="550.8" y1="287.9" x2="546.6" y2="285.2" stroke="#1a1a1a" stroke-width="0.8"/>
<line x1="607.5" y1="221.2" x2="601.0" y2="217.0" stroke="#3c3c3c" stroke-width="4.2" stroke-linecap="round"/>
<line x1="606.8" y1="220.8" x2="600.2" y2="216.5" stroke="#fff" stroke-width="0.8" stroke-dasharray="0.6 1.5"/>
<ellipse cx="608.9" cy="222.2" rx="1.9" ry="4.5" transform="rotate(-146.7 608.9 222.2)" fill="#fff" stroke="#3c3c3c" stroke-width="1.4"/>
<ellipse cx="610.5" cy="223.2" rx="2.2" ry="3.0" transform="rotate(-146.7 610.5 223.2)" fill="#fff" stroke="#3c3c3c" stroke-width="1.2"/>
<line x1="611.8" y1="224.1" x2="608.8" y2="222.1" stroke="#3c3c3c" stroke-width="0.8"/>
<line x1="662.5" y1="271.3" x2="655.9" y2="267.0" stroke="#3c3c3c" stroke-width="4.2" stroke-linecap="round"/>
<line x1="661.8" y1="270.9" x2="655.2" y2="266.5" stroke="#fff" stroke-width="0.8" stroke-dasharray="0.6 1.5"/>
<ellipse cx="663.9" cy="272.3" rx="1.9" ry="4.5" transform="rotate(-146.4 663.9 272.3)" fill="#fff" stroke="#3c3c3c" stroke-width="1.4"/>
<ellipse cx="665.5" cy="273.3" rx="2.2" ry="3.0" transform="rotate(-146.4 665.5 273.3)" fill="#fff" stroke="#3c3c3c" stroke-width="1.2"/>
<line x1="666.8" y1="274.2" x2="663.9" y2="272.2" stroke="#3c3c3c" stroke-width="0.8"/>
<line x1="674.6" y1="205.7" x2="669.2" y2="202.6" stroke="#3c3c3c" stroke-width="3.8" stroke-linecap="round"/>
<line x1="673.9" y1="205.3" x2="668.5" y2="202.3" stroke="#fff" stroke-width="0.8" stroke-dasharray="0.6 1.5"/>
<ellipse cx="675.9" cy="206.4" rx="1.7" ry="4.0" transform="rotate(-150.9 675.9 206.4)" fill="#fff" stroke="#3c3c3c" stroke-width="1.4"/>
<ellipse cx="677.4" cy="207.2" rx="1.9" ry="2.6" transform="rotate(-150.9 677.4 207.2)" fill="#fff" stroke="#3c3c3c" stroke-width="1.2"/>
<line x1="678.6" y1="207.9" x2="675.9" y2="206.4" stroke="#3c3c3c" stroke-width="0.8"/>
<line x1="806.5" y1="256.8" x2="803.3" y2="255.2" stroke="#3c3c3c" stroke-width="4.0" stroke-linecap="round"/>
<line x1="805.8" y1="256.4" x2="802.6" y2="254.8" stroke="#fff" stroke-width="0.8" stroke-dasharray="0.6 1.5"/>
<ellipse cx="808.0" cy="257.5" rx="1.8" ry="4.2" transform="rotate(-153.7 808.0 257.5)" fill="#fff" stroke="#3c3c3c" stroke-width="1.4"/>
<ellipse cx="809.5" cy="258.2" rx="2.0" ry="2.8" transform="rotate(-153.7 809.5 258.2)" fill="#fff" stroke="#3c3c3c" stroke-width="1.2"/>
<line x1="810.8" y1="258.9" x2="807.9" y2="257.4" stroke="#3c3c3c" stroke-width="0.8"/>
<line x1="814.1" y1="308.9" x2="806.5" y2="304.9" stroke="#3c3c3c" stroke-width="4.0" stroke-linecap="round"/>
<line x1="813.4" y1="308.5" x2="805.8" y2="304.6" stroke="#fff" stroke-width="0.8" stroke-dasharray="0.6 1.5"/>
<ellipse cx="815.5" cy="309.6" rx="1.8" ry="4.2" transform="rotate(-152.4 815.5 309.6)" fill="#fff" stroke="#3c3c3c" stroke-width="1.4"/>
<ellipse cx="817.0" cy="310.4" rx="2.0" ry="2.8" transform="rotate(-152.4 817.0 310.4)" fill="#fff" stroke="#3c3c3c" stroke-width="1.2"/>
<line x1="818.3" y1="311.1" x2="815.4" y2="309.6" stroke="#3c3c3c" stroke-width="0.8"/>
<line x1="903.2" y1="379.1" x2="891.9" y2="373.4" stroke="#3c3c3c" stroke-width="4.2" stroke-linecap="round"/>
<line x1="902.5" y1="378.7" x2="891.1" y2="373.0" stroke="#fff" stroke-width="0.8" stroke-dasharray="0.6 1.5"/>
<ellipse cx="904.7" cy="379.9" rx="1.9" ry="4.5" transform="rotate(-153.4 904.7 379.9)" fill="#fff" stroke="#3c3c3c" stroke-width="1.4"/>
<ellipse cx="906.4" cy="380.7" rx="2.2" ry="3.0" transform="rotate(-153.4 906.4 380.7)" fill="#fff" stroke="#3c3c3c" stroke-width="1.2"/>
<line x1="907.8" y1="381.4" x2="904.6" y2="379.8" stroke="#3c3c3c" stroke-width="0.8"/>
<line x1="519.2" y1="425.7" x2="506.8" y2="420.1" stroke="#1a1a1a" stroke-width="5.6" stroke-linecap="round"/>
<line x1="518.4" y1="425.4" x2="505.3" y2="419.5" stroke="#fff" stroke-width="2.2" stroke-dasharray="0.6 1.5"/>
<ellipse cx="521.3" cy="426.7" rx="2.7" ry="6.0" transform="rotate(-155.8 521.3 426.7)" fill="#fff" stroke="#1a1a1a" stroke-width="1.4"/>
<ellipse cx="523.7" cy="427.8" rx="3.0" ry="4.0" transform="rotate(-155.8 523.7 427.8)" fill="#fff" stroke="#1a1a1a" stroke-width="1.2"/>
<line x1="525.8" y1="428.7" x2="521.2" y2="426.6" stroke="#1a1a1a" stroke-width="0.8"/>
<line x1="487.4" y1="426.4" x2="475.6" y2="421.1" stroke="#1a1a1a" stroke-width="5.6" stroke-linecap="round"/>
<line x1="486.6" y1="426.1" x2="474.1" y2="420.5" stroke="#fff" stroke-width="2.2" stroke-dasharray="0.6 1.5"/>
<ellipse cx="489.5" cy="427.4" rx="2.7" ry="6.0" transform="rotate(-155.9 489.5 427.4)" fill="#fff" stroke="#1a1a1a" stroke-width="1.4"/>
<ellipse cx="491.9" cy="428.5" rx="3.0" ry="4.0" transform="rotate(-155.9 491.9 428.5)" fill="#fff" stroke="#1a1a1a" stroke-width="1.2"/>
<line x1="494.0" y1="429.4" x2="489.4" y2="427.4" stroke="#1a1a1a" stroke-width="0.8"/>
<line x1="480.8" y1="453.6" x2="469.2" y2="447.6" stroke="#1a1a1a" stroke-width="5.6" stroke-linecap="round"/>
<line x1="480.1" y1="453.2" x2="467.8" y2="446.8" stroke="#fff" stroke-width="2.2" stroke-dasharray="0.6 1.5"/>
<ellipse cx="483.0" cy="454.7" rx="2.7" ry="6.0" transform="rotate(-152.8 483.0 454.7)" fill="#fff" stroke="#1a1a1a" stroke-width="1.4"/>
<ellipse cx="485.2" cy="455.8" rx="3.0" ry="4.0" transform="rotate(-152.8 485.2 455.8)" fill="#fff" stroke="#1a1a1a" stroke-width="1.2"/>
<line x1="487.3" y1="456.9" x2="482.8" y2="454.6" stroke="#1a1a1a" stroke-width="0.8"/>
<line x1="510.8" y1="453.7" x2="499.2" y2="447.9" stroke="#1a1a1a" stroke-width="5.6" stroke-linecap="round"/>
<line x1="510.1" y1="453.3" x2="497.8" y2="447.2" stroke="#fff" stroke-width="2.2" stroke-dasharray="0.6 1.5"/>
<ellipse cx="512.9" cy="454.7" rx="2.7" ry="6.0" transform="rotate(-153.7 512.9 454.7)" fill="#fff" stroke="#1a1a1a" stroke-width="1.4"/>
<ellipse cx="515.2" cy="455.9" rx="3.0" ry="4.0" transform="rotate(-153.7 515.2 455.9)" fill="#fff" stroke="#1a1a1a" stroke-width="1.2"/>
<line x1="517.3" y1="456.9" x2="512.8" y2="454.7" stroke="#1a1a1a" stroke-width="0.8"/>
<line x1="622.4" y1="519.4" x2="607.2" y2="511.0" stroke="#1a1a1a" stroke-width="5.6" stroke-linecap="round"/>
<line x1="621.7" y1="519.0" x2="605.8" y2="510.3" stroke="#fff" stroke-width="2.2" stroke-dasharray="0.6 1.5"/>
<ellipse cx="624.5" cy="520.6" rx="2.7" ry="6.0" transform="rotate(-151.3 624.5 520.6)" fill="#fff" stroke="#1a1a1a" stroke-width="1.4"/>
<ellipse cx="626.8" cy="521.8" rx="3.0" ry="4.0" transform="rotate(-151.3 626.8 521.8)" fill="#fff" stroke="#1a1a1a" stroke-width="1.2"/>
<line x1="628.8" y1="522.9" x2="624.4" y2="520.5" stroke="#1a1a1a" stroke-width="0.8"/>
<line x1="709.1" y1="56.4" x2="701.2" y2="69.7" stroke="#222" stroke-width="5.2" stroke-linecap="round"/>
<line x1="709.1" y1="56.4" x2="701.2" y2="69.7" stroke="#fff" stroke-width="3.0" stroke-linecap="round"/>
<line x1="708.1" y1="58.1" x2="700.5" y2="70.9" stroke="#555" stroke-width="3.0" stroke-dasharray="0.6 1.1"/>
<ellipse cx="709.7" cy="55.3" rx="1.0" ry="5.0" transform="rotate(120.6 709.7 55.3)" fill="#fff" stroke="#222" stroke-width="1.3"/>
<polygon points="714.3,51.9 715.4,53.5 713.5,56.8 706.6,52.7 708.6,49.4 710.5,49.7" fill="#fff" stroke="#222" stroke-width="1.3" stroke-linejoin="round"/>
<line x1="713.4" y1="51.8" x2="711.3" y2="55.4" stroke="#222" stroke-width="0.8"/>
<line x1="711.0" y1="50.4" x2="708.9" y2="54.0" stroke="#222" stroke-width="0.8"/>
<line x1="731.2" y1="69.1" x2="723.3" y2="81.7" stroke="#222" stroke-width="5.2" stroke-linecap="round"/>
<line x1="731.2" y1="69.1" x2="723.3" y2="81.7" stroke="#fff" stroke-width="3.0" stroke-linecap="round"/>
<line x1="730.2" y1="70.8" x2="722.5" y2="82.9" stroke="#555" stroke-width="3.0" stroke-dasharray="0.6 1.1"/>
<ellipse cx="731.9" cy="68.0" rx="1.0" ry="5.0" transform="rotate(122.2 731.9 68.0)" fill="#fff" stroke="#222" stroke-width="1.3"/>
<polygon points="736.6,64.8 737.7,66.4 735.7,69.6 728.9,65.3 730.9,62.1 732.8,62.4" fill="#fff" stroke="#222" stroke-width="1.3" stroke-linejoin="round"/>
<line x1="735.7" y1="64.6" x2="733.5" y2="68.2" stroke="#222" stroke-width="0.8"/>
<line x1="733.3" y1="63.1" x2="731.1" y2="66.7" stroke="#222" stroke-width="0.8"/>
<line x1="722.3" y1="98.3" x2="717.0" y2="106.4" stroke="#222" stroke-width="5.2" stroke-linecap="round"/>
<line x1="722.3" y1="98.3" x2="717.0" y2="106.4" stroke="#fff" stroke-width="3.0" stroke-linecap="round"/>
<line x1="721.2" y1="99.9" x2="716.3" y2="107.6" stroke="#555" stroke-width="3.0" stroke-dasharray="0.6 1.1"/>
<ellipse cx="723.0" cy="97.2" rx="1.0" ry="5.0" transform="rotate(122.8 723.0 97.2)" fill="#fff" stroke="#222" stroke-width="1.3"/>
<polygon points="727.6,94.0 728.7,95.6 726.7,98.8 720.0,94.5 722.0,91.3 724.0,91.6" fill="#fff" stroke="#222" stroke-width="1.3" stroke-linejoin="round"/>
<line x1="726.8" y1="93.8" x2="724.5" y2="97.4" stroke="#222" stroke-width="0.8"/>
<line x1="724.4" y1="92.3" x2="722.2" y2="95.9" stroke="#222" stroke-width="0.8"/>
<line x1="1037.1" y1="515.9" x2="1003.9" y2="490.7" stroke="#1a1a1a" stroke-width="4.8" stroke-linecap="round"/>
<line x1="1010.1" y1="495.5" x2="1003.0" y2="490.0" stroke="#fff" stroke-width="1.4" stroke-dasharray="0.6 1.5"/>
<line x1="1037.1" y1="515.9" x2="1010.8" y2="495.9" stroke="#fff" stroke-width="2.8"/>
<ellipse cx="1038.5" cy="516.9" rx="2.0" ry="4.5" transform="rotate(-142.9 1038.5 516.9)" fill="#fff" stroke="#1a1a1a" stroke-width="1.4"/>
<ellipse cx="1040.0" cy="518.1" rx="2.2" ry="3.0" transform="rotate(-142.9 1040.0 518.1)" fill="#fff" stroke="#1a1a1a" stroke-width="1.2"/>
<line x1="1041.3" y1="519.1" x2="1038.4" y2="516.9" stroke="#1a1a1a" stroke-width="0.8"/>
</g>

<!-- 61_smallparts.svg -->
<g id="smallparts">
<!-- pin 44 -->
<g transform="translate(480,25) scale(0.1666667)">
<path class="mf" d="M346,132 L368,124 L405,198 L388,208 Z"/><path class="t" d="M372,160 L392,200"/>
<ellipse class="kf" cx="355" cy="125" rx="17" ry="9" transform="rotate(-15 355 125)"/>
<path class="l" d="M345,95 L350,112"/>
<!-- cotter 43 -->
<circle class="m" style="stroke-width:1.3" cx="468" cy="160" r="12"/>
<path class="m" style="stroke-width:1.3" d="M458,168 L418,186 M462,172 L425,192 M432,172 L440,192"/>
</g>
<!-- nut 46 -->
<g transform="translate(430,160) scale(0.1666667)">
<ellipse class="mf" cx="80" cy="302" rx="32" ry="22" transform="rotate(-30 80 302)"/>
<ellipse class="g" cx="84" cy="304" rx="18" ry="11" transform="rotate(-30 84 304)" style="stroke:#666"/>
<path class="m" d="M48,290 L52,278 L70,272 L85,278 M52,278 L60,295 M50,300 L55,325 L70,335"/>
</g>
</g>

<!-- 90_labels.svg -->
<g id="leaders">
<line class="l" x1="87.3" y1="222.3" x2="61.7" y2="259.0"/>
<line class="l" x1="115.0" y1="224.7" x2="87.3" y2="260.7"/>
<line class="l" x1="56.7" y1="349.0" x2="77.3" y2="295.7"/>
<line class="l" x1="168.3" y1="304.0" x2="181.7" y2="275.7"/>
<line class="l" x1="128.3" y1="375.7" x2="146.7" y2="335.7"/>
<line class="l" x1="156.7" y1="375.7" x2="173.3" y2="334.0"/>
<line class="l" x1="200.0" y1="362.3" x2="216.7" y2="304.0"/>
<line class="l" x1="200.0" y1="362.3" x2="230.0" y2="362.3"/>
<line class="l" x1="200.0" y1="362.3" x2="200.0" y2="377.5"/>
<line class="l" x1="230.0" y1="362.3" x2="230.0" y2="377.5"/>
<line class="l" x1="270.7" y1="379.0" x2="278.3" y2="350.7"/>
<line class="l" x1="311.7" y1="359.0" x2="300.0" y2="314.0"/>
<line class="l" x1="345.0" y1="325.7" x2="350.0" y2="290.7"/>
<line class="l" x1="163.3" y1="93.3" x2="191.7" y2="141.7"/>
<line class="l" x1="558.0" y1="32.7" x2="542.3" y2="45.0"/>
<line class="l" x1="585.0" y1="56.0" x2="560.0" y2="52.7"/>
<line class="l" x1="631.7" y1="60.0" x2="649.0" y2="78.3"/>
<line class="l" x1="482.3" y1="100.0" x2="505.7" y2="121.7"/>
<line class="l" x1="641.3" y1="101.0" x2="665.7" y2="104.3"/>
<line class="l" x1="640.7" y1="158.3" x2="651.7" y2="141.7"/>
<line class="l" x1="684.0" y1="166.7" x2="674.0" y2="154.0"/>
<line class="l" x1="682.3" y1="182.7" x2="665.7" y2="179.3"/>
<line class="l" x1="408.6" y1="187.0" x2="408.6" y2="205.3"/>
<line class="l" x1="445.3" y1="179.0" x2="445.5" y2="204.0"/>
<line class="l" x1="743.0" y1="41.7" x2="714.7" y2="55.0"/>
<line class="l" x1="758.7" y1="58.3" x2="738.0" y2="66.0"/>
<line class="l" x1="750.3" y1="93.3" x2="728.0" y2="95.7"/>
<line class="l" x1="752.0" y1="118.3" x2="729.7" y2="119.3"/>
<line class="l" x1="732.0" y1="156.7" x2="709.7" y2="167.7"/>
<line class="l" x1="374.7" y1="284.0" x2="357.3" y2="262.3"/>
<line class="l" x1="425.7" y1="307.3" x2="411.3" y2="337.3"/>
<line class="l" x1="474.7" y1="357.3" x2="450.7" y2="365.7"/>
<line class="l" x1="539.0" y1="312.3" x2="546.3" y2="290.7"/>
<line class="l" x1="569.7" y1="251.3" x2="562.3" y2="229.0"/>
<line class="l" x1="598.3" y1="249.0" x2="607.3" y2="225.7"/>
<line class="l" x1="647.3" y1="218.0" x2="634.0" y2="229.0"/>
<line class="l" x1="654.0" y1="229.0" x2="630.7" y2="247.3"/>
<line class="l" x1="656.7" y1="240.7" x2="649.0" y2="260.7"/>
<line class="l" x1="669.0" y1="295.7" x2="664.7" y2="274.0"/>
<line class="l" x1="791.3" y1="220.7" x2="774.7" y2="234.0"/>
<line class="l" x1="824.7" y1="249.0" x2="809.7" y2="257.3"/>
<line class="l" x1="826.3" y1="277.3" x2="809.7" y2="287.3"/>
<line class="l" x1="838.7" y1="295.0" x2="816.3" y2="309.7"/>
<line class="l" x1="789.7" y1="314.7" x2="776.3" y2="321.7"/>
<line class="l" x1="908.7" y1="299.0" x2="886.3" y2="322.3"/>
<line class="l" x1="945.3" y1="335.7" x2="906.3" y2="379.0"/>
<line class="l" x1="1008.0" y1="337.3" x2="996.3" y2="382.3"/>
<line class="l" x1="437.3" y1="445.3" x2="431.3" y2="411.3"/>
<line class="l" x1="545.7" y1="413.0" x2="524.0" y2="424.7"/>
<line class="l" x1="510.7" y1="438.7" x2="490.7" y2="429.7"/>
<line class="l" x1="475.7" y1="479.7" x2="480.7" y2="459.7"/>
<line class="l" x1="505.7" y1="483.0" x2="510.7" y2="459.7"/>
<line class="l" x1="582.3" y1="408.0" x2="577.3" y2="429.7"/>
<line class="l" x1="592.3" y1="458.0" x2="572.3" y2="474.0"/>
<line class="l" x1="644.0" y1="496.3" x2="625.7" y2="518.7"/>
<line class="l" x1="1039.0" y1="546.3" x2="1036.3" y2="521.3"/>
</g>
<g id="labels">
<text x="159.3" y="100.0" transform="translate(159.3 0) scale(0.79 1) translate(-159.3 0)">1</text>
<text x="95.8" y="224.7" style="letter-spacing:2px" transform="translate(95.0 0) scale(0.79 1) translate(-95.0 0)">(2)</text>
<text x="118.3" y="224.7" transform="translate(118.3 0) scale(0.79 1) translate(-118.3 0)">2</text>
<text x="56.7" y="363.0" transform="translate(56.7 0) scale(0.79 1) translate(-56.7 0)">3</text>
<text x="170.0" y="317.0" transform="translate(170.0 0) scale(0.79 1) translate(-170.0 0)">6</text>
<text x="129.1" y="388.5" style="letter-spacing:2px" transform="translate(128.3 0) scale(0.79 1) translate(-128.3 0)">(2)</text>
<text x="159.1" y="388.5" style="letter-spacing:2px" transform="translate(158.3 0) scale(0.79 1) translate(-158.3 0)">(2)</text>
<text x="199.0" y="394.0" transform="translate(199.0 0) scale(0.79 1) translate(-199.0 0)">4</text>
<text x="230.7" y="394.0" transform="translate(230.7 0) scale(0.79 1) translate(-230.7 0)">5</text>
<text x="270.7" y="390.5" transform="translate(270.7 0) scale(0.79 1) translate(-270.7 0)">7</text>
<text x="311.7" y="371.3" transform="translate(311.7 0) scale(0.79 1) translate(-311.7 0)">8</text>
<text x="345.0" y="338.0" transform="translate(345.0 0) scale(0.79 1) translate(-345.0 0)">9</text>
<text x="379.7" y="297.3" transform="translate(379.7 0) scale(0.79 1) translate(-379.7 0)">10</text>
<text x="408.0" y="185.0" transform="translate(408.0 0) scale(0.79 1) translate(-408.0 0)">11</text>
<text x="444.0" y="177.3" transform="translate(444.0 0) scale(0.79 1) translate(-444.0 0)">46</text>
<text x="430.7" y="311.0" transform="translate(430.7 0) scale(0.79 1) translate(-430.7 0)">12</text>
<text x="482.3" y="361.7" transform="translate(482.3 0) scale(0.79 1) translate(-482.3 0)">13</text>
<text x="438.0" y="458.7" transform="translate(438.0 0) scale(0.79 1) translate(-438.0 0)">14</text>
<text x="553.0" y="416.0" transform="translate(553.0 0) scale(0.79 1) translate(-553.0 0)">15</text>
<text x="516.3" y="446.0" transform="translate(516.3 0) scale(0.79 1) translate(-516.3 0)">16</text>
<text x="475.5" y="491.3" style="letter-spacing:0.8px" transform="translate(474.7 0) scale(0.79 1) translate(-474.7 0)">(16)</text>
<text x="505.8" y="495.0" style="letter-spacing:0.8px" transform="translate(505.0 0) scale(0.79 1) translate(-505.0 0)">(15)</text>
<text x="584.0" y="407.3" transform="translate(584.0 0) scale(0.79 1) translate(-584.0 0)">17</text>
<text x="599.0" y="460.0" transform="translate(599.0 0) scale(0.79 1) translate(-599.0 0)">18</text>
<text x="650.7" y="498.3" transform="translate(650.7 0) scale(0.79 1) translate(-650.7 0)">19</text>
<text x="1039.7" y="558.0" transform="translate(1039.7 0) scale(0.79 1) translate(-1039.7 0)">20</text>
<text x="1008.0" y="336.7" transform="translate(1008.0 0) scale(0.79 1) translate(-1008.0 0)">21</text>
<text x="951.3" y="336.7" transform="translate(951.3 0) scale(0.79 1) translate(-951.3 0)">22</text>
<text x="915.3" y="301.7" transform="translate(915.3 0) scale(0.79 1) translate(-915.3 0)">23</text>
<text x="845.3" y="298.3" transform="translate(845.3 0) scale(0.79 1) translate(-845.3 0)">24</text>
<text x="796.3" y="316.7" transform="translate(796.3 0) scale(0.79 1) translate(-796.3 0)">25</text>
<text x="833.0" y="281.0" transform="translate(833.0 0) scale(0.79 1) translate(-833.0 0)">26</text>
<text x="831.3" y="252.7" transform="translate(831.3 0) scale(0.79 1) translate(-831.3 0)">27</text>
<text x="798.0" y="223.3" transform="translate(798.0 0) scale(0.79 1) translate(-798.0 0)">28</text>
<text x="669.0" y="307.7" transform="translate(669.0 0) scale(0.79 1) translate(-669.0 0)">29</text>
<text x="663.3" y="242.7" transform="translate(663.3 0) scale(0.79 1) translate(-663.3 0)">30</text>
<text x="660.7" y="232.0" transform="translate(660.7 0) scale(0.79 1) translate(-660.7 0)">31</text>
<text x="654.0" y="221.3" transform="translate(654.0 0) scale(0.79 1) translate(-654.0 0)">32</text>
<text x="700.7" y="198.0" transform="translate(700.7 0) scale(0.79 1) translate(-700.7 0)">33</text>
<text x="689.0" y="188.0" transform="translate(689.0 0) scale(0.79 1) translate(-689.0 0)">34</text>
<text x="689.0" y="177.0" transform="translate(689.0 0) scale(0.79 1) translate(-689.0 0)">35</text>
<text x="632.1" y="163.0" style="letter-spacing:0.8px" transform="translate(631.3 0) scale(0.79 1) translate(-631.3 0)">(34)</text>
<text x="738.7" y="161.7" transform="translate(738.7 0) scale(0.79 1) translate(-738.7 0)">36</text>
<text x="758.0" y="123.3" transform="translate(758.0 0) scale(0.79 1) translate(-758.0 0)">37</text>
<text x="756.3" y="98.0" transform="translate(756.3 0) scale(0.79 1) translate(-756.3 0)">38</text>
<text x="765.3" y="63.3" transform="translate(765.3 0) scale(0.79 1) translate(-765.3 0)">39</text>
<text x="754.5" y="45.3" style="letter-spacing:0.8px" transform="translate(753.7 0) scale(0.79 1) translate(-753.7 0)">(39)</text>
<text x="711.0" y="34.3" transform="translate(711.0 0) scale(0.79 1) translate(-711.0 0)">40</text>
<text x="629.0" y="58.3" transform="translate(629.0 0) scale(0.79 1) translate(-629.0 0)">41</text>
<text x="634.7" y="105.7" transform="translate(634.7 0) scale(0.79 1) translate(-634.7 0)">42</text>
<text x="591.7" y="61.7" transform="translate(591.7 0) scale(0.79 1) translate(-591.7 0)">43</text>
<text x="564.7" y="32.6" transform="translate(564.7 0) scale(0.79 1) translate(-564.7 0)">44</text>
<text x="478.0" y="99.0" transform="translate(478.0 0) scale(0.79 1) translate(-478.0 0)">45</text>
<text x="538.3" y="324.0" transform="translate(538.3 0) scale(0.79 1) translate(-538.3 0)">47</text>
<text x="569.7" y="263.3" transform="translate(569.7 0) scale(0.79 1) translate(-569.7 0)">48</text>
<text x="596.7" y="261.0" transform="translate(596.7 0) scale(0.79 1) translate(-596.7 0)">49</text>
</g>

</svg></body></html>
